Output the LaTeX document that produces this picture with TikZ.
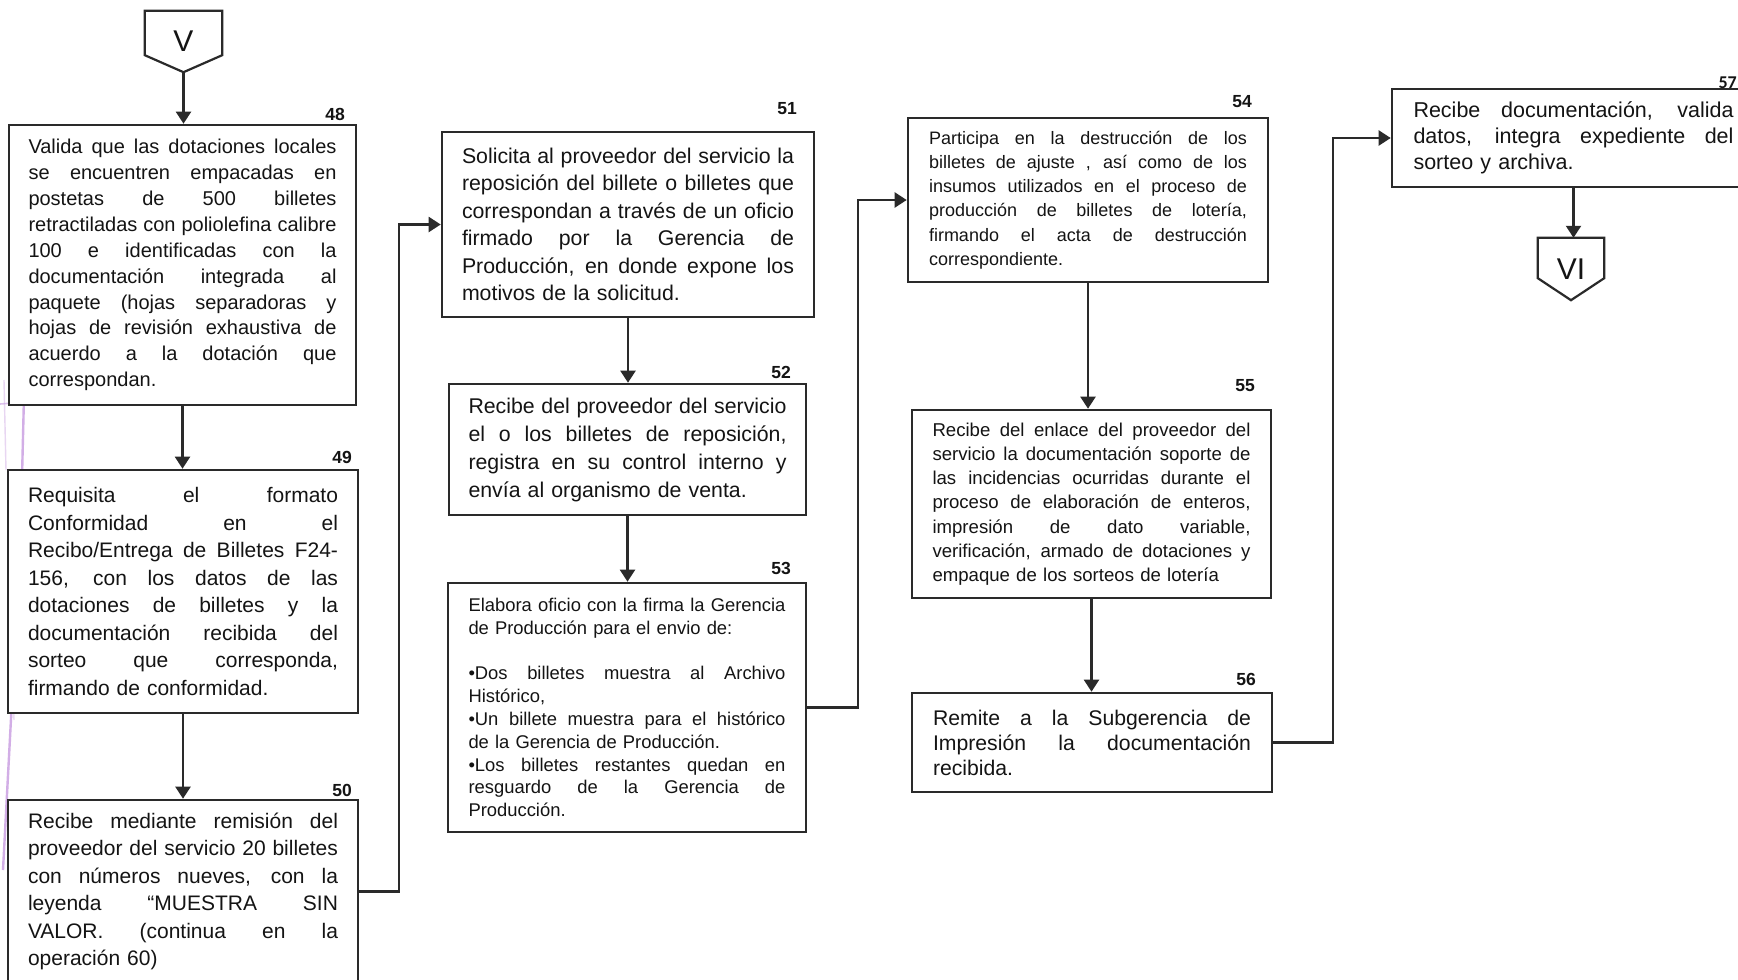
\documentclass[tikz,border=0pt]{standalone}
\usepackage{fontspec}
\setmainfont{Liberation Sans}
\newfontfamily\tagfont{Carlito}
\usetikzlibrary{arrows.meta,calc}

\definecolor{ink}{HTML}{2A2A2A}
\definecolor{txt}{HTML}{141414}
\definecolor{stamp}{HTML}{C79AE0}

% one justified line of a box text, and the closing (ragged) line
\newcommand\jline[1]{\hbox to\linewidth{\spaceskip=.278em plus 1fil minus .06em\xspaceskip=\spaceskip\relax#1}}
\newcommand\lline[1]{\hbox to\linewidth{#1\hfil}}

\tikzset{
  procbox/.style={draw=ink, line width=2.6pt, inner sep=0pt, text=txt, fill=white},
  steptag/.style={inner sep=0pt, text=txt, font=\bfseries\fontsize{17.5pt}{17.5pt}\selectfont},
  flow/.style={draw=ink, line width=2.1pt, -{Triangle[length=12pt,width=15pt]}},
  offpage/.style={inner sep=0pt, text=txt, font=\fontsize{30pt}{30pt}\selectfont},
  offline/.style={draw=ink, line width=2.2pt, line join=miter}
}

\begin{document}
\begin{tikzpicture}[x=1pt,y=-1pt]
\path[use as bounding box, fill=white] (0,0) rectangle (1738,980);
\clip (0,0) rectangle (1738,980);

% stamp traces along the left edge
\draw[stamp, line width=2.4pt, opacity=.8] (24,396) -- (20,560) -- (12,700) -- (3,870);
\draw[stamp, line width=1.6pt, opacity=.6] (0,404) -- (27,402);
\draw[stamp, line width=1.4pt, opacity=.4] (4,380) -- (6,470);
\draw[stamp, line width=1.4pt, opacity=.35] (10,610) -- (14,720);

% ---------- off-page connector V ----------
\node[offpage, minimum width=77pt, minimum height=61pt] (v) at (183.5,41.5) {V};
\draw[offline] (v.north west) -- (v.north east) -- ([yshift=17pt]v.south east)
  -- (v.south) -- ([yshift=17pt]v.south west) -- cycle;

% ---------- column 1 ----------
\node[procbox, minimum width=347pt, minimum height=280pt, text width=308pt,
      font=\fontsize{20pt}{25.9pt}\selectfont] (b48) at (182.5,265) {%
\jline{Valida que las dotaciones locales}
\jline{se encuentren empacadas en}
\jline{postetas de 500 billetes}
\jline{retractiladas con poliolefina calibre}
\jline{100 e identificadas con la}
\jline{documentación integrada al}
\jline{paquete (hojas separadoras y}
\jline{hojas de revisión exhaustiva de}
\jline{acuerdo a la dotación que}
\lline{correspondan.}};
\node[steptag, anchor=east] (n48) at (345,114) {48};

\node[procbox, minimum width=350pt, minimum height=243pt, text width=310pt,
      font=\fontsize{21pt}{27.5pt}\selectfont] (b49) at (183,591.5) {%
\jline{Requisita el formato}
\jline{Conformidad en el}
\jline{Recibo/Entrega de Billetes F24-}
\jline{156, con los datos de las}
\jline{dotaciones de billetes y la}
\jline{documentación recibida del}
\jline{sorteo que corresponda,}
\lline{firmando de conformidad.}};
\node[steptag, anchor=east] (n49) at (352,457) {49};

\node[procbox, minimum width=350pt, minimum height=183pt, text width=310pt,
      font=\fontsize{21pt}{27.4pt}\selectfont] (b50) at (183,891.5) {%
\jline{Recibe mediante remisión del}
\jline{proveedor del servicio 20 billetes}
\jline{con números nueves, con la}
\jline{leyenda “MUESTRA SIN}
\jline{VALOR. (continua en la}
\lline{operación 60)}};
\node[steptag, anchor=east] (n50) at (352,790) {50};

% ---------- column 2 ----------
\node[procbox, minimum width=372pt, minimum height=185pt, text width=332pt,
      font=\fontsize{21.3pt}{27.5pt}\selectfont] (b51) at (628,224.5) {%
\jline{Solicita al proveedor del servicio la}
\jline{reposición del billete o billetes que}
\jline{correspondan a través de un oficio}
\jline{firmado por la Gerencia de}
\jline{Producción, en donde expone los}
\lline{motivos de la solicitud.}};
\node[steptag, anchor=east] (n51) at (797,109) {51};

\node[procbox, minimum width=357pt, minimum height=131pt, text width=318pt,
      font=\fontsize{21.3pt}{28pt}\selectfont] (b52) at (627.5,449.5) {%
\jline{Recibe del proveedor del servicio}
\jline{el o los billetes de reposición,}
\jline{registra en su control interno y}
\lline{envía al organismo de venta.}};
\node[steptag, anchor=east] (n52) at (791,372) {52};

\node[procbox, minimum width=358pt, minimum height=249pt, text width=317pt,
      font=\fontsize{18.4pt}{22.8pt}\selectfont] (b53) at (627,707.5) {%
\jline{Elabora oficio con la firma la Gerencia}
\lline{de Producción para el envio de:}
\lline{}
\jline{\textbullet Dos billetes muestra al Archivo}
\lline{Histórico,}
\jline{\textbullet Un billete muestra para el histórico}
\lline{de la Gerencia de Producción.}
\jline{\textbullet Los billetes restantes quedan en}
\jline{resguardo de la Gerencia de}
\lline{Producción.}};
\node[steptag, anchor=east] (n53) at (791,568) {53};

% ---------- column 3 ----------
\node[procbox, minimum width=360pt, minimum height=164pt, text width=318pt,
      font=\fontsize{18pt}{24.2pt}\selectfont] (b54) at (1088,200) {%
\jline{Participa en la destrucción de los}
\jline{billetes de ajuste , así como de los}
\jline{insumos utilizados en el proceso de}
\jline{producción de billetes de lotería,}
\jline{firmando el acta de destrucción}
\lline{correspondiente.}};
\node[steptag, anchor=east] (n54) at (1252,102) {54};

\node[procbox, minimum width=359pt, minimum height=188pt, text width=318pt,
      font=\fontsize{18.6pt}{24.2pt}\selectfont] (b55) at (1091.5,504) {%
\jline{Recibe del enlace del proveedor del}
\jline{servicio la documentación soporte de}
\jline{las incidencias ocurridas durante el}
\jline{proceso de elaboración de enteros,}
\jline{impresión de dato variable,}
\jline{verificación, armado de dotaciones y}
\lline{empaque de los sorteos de lotería}};
\node[steptag, anchor=east] (n55) at (1255,386) {55};

\node[procbox, minimum width=360pt, minimum height=99pt, text width=318pt,
      font=\fontsize{21.2pt}{25pt}\selectfont] (b56) at (1092,742.5) {%
\jline{Remite a la Subgerencia de}
\jline{Impresión la documentación}
\lline{recibida.}};
\node[steptag, anchor=east] (n56) at (1256,679) {56};

% ---------- column 4 ----------
\node[procbox, minimum width=363pt, minimum height=98pt, text width=320pt,
      font=\fontsize{21.5pt}{26.3pt}\selectfont] (b57) at (1573.5,138) {%
\jline{Recibe documentación, valida}
\jline{datos, integra expediente del}
\lline{sorteo y archiva.}};
\node[steptag, font=\tagfont\bfseries\fontsize{18pt}{18pt}\selectfont, anchor=east] (n57) at (1737,83) {57};

% ---------- off-page connector VI ----------
\node[offpage, minimum width=66pt, minimum height=62pt] (vi) at (1571,269) {VI};
\draw[offline] (vi.north west) -- (vi.north east) -- ([yshift=22pt]vi.south east)
  -- (vi.south) -- ([yshift=22pt]vi.south west) -- cycle;

% ---------- connectors ----------
\draw[flow] (v.south) -- (v.south |- b48.north);
\draw[flow] (b48.south) -- (b48.south |- b49.north);
\draw[flow] (b49.south) -- (b49.south |- b50.north);
\draw[flow] (b50.east) -- ++(40,0) |- (b51.west);
\draw[flow] (b51.south) -- (b51.south |- b52.north);
\draw[flow] (b52.south) -- (b52.south |- b53.north);
\draw[flow] (b53.east) -- ++(51,0) |- (b54.west);
\draw[flow] (b54.south) -- (b54.south |- b55.north);
\draw[flow] (b55.south) -- (b55.south |- b56.north);
\draw[flow] (b56.east) -- ++(60,0) |- (b57.west);
\draw[flow] (b57.south) -- (b57.south |- vi.north);
\end{tikzpicture}
\end{document}
